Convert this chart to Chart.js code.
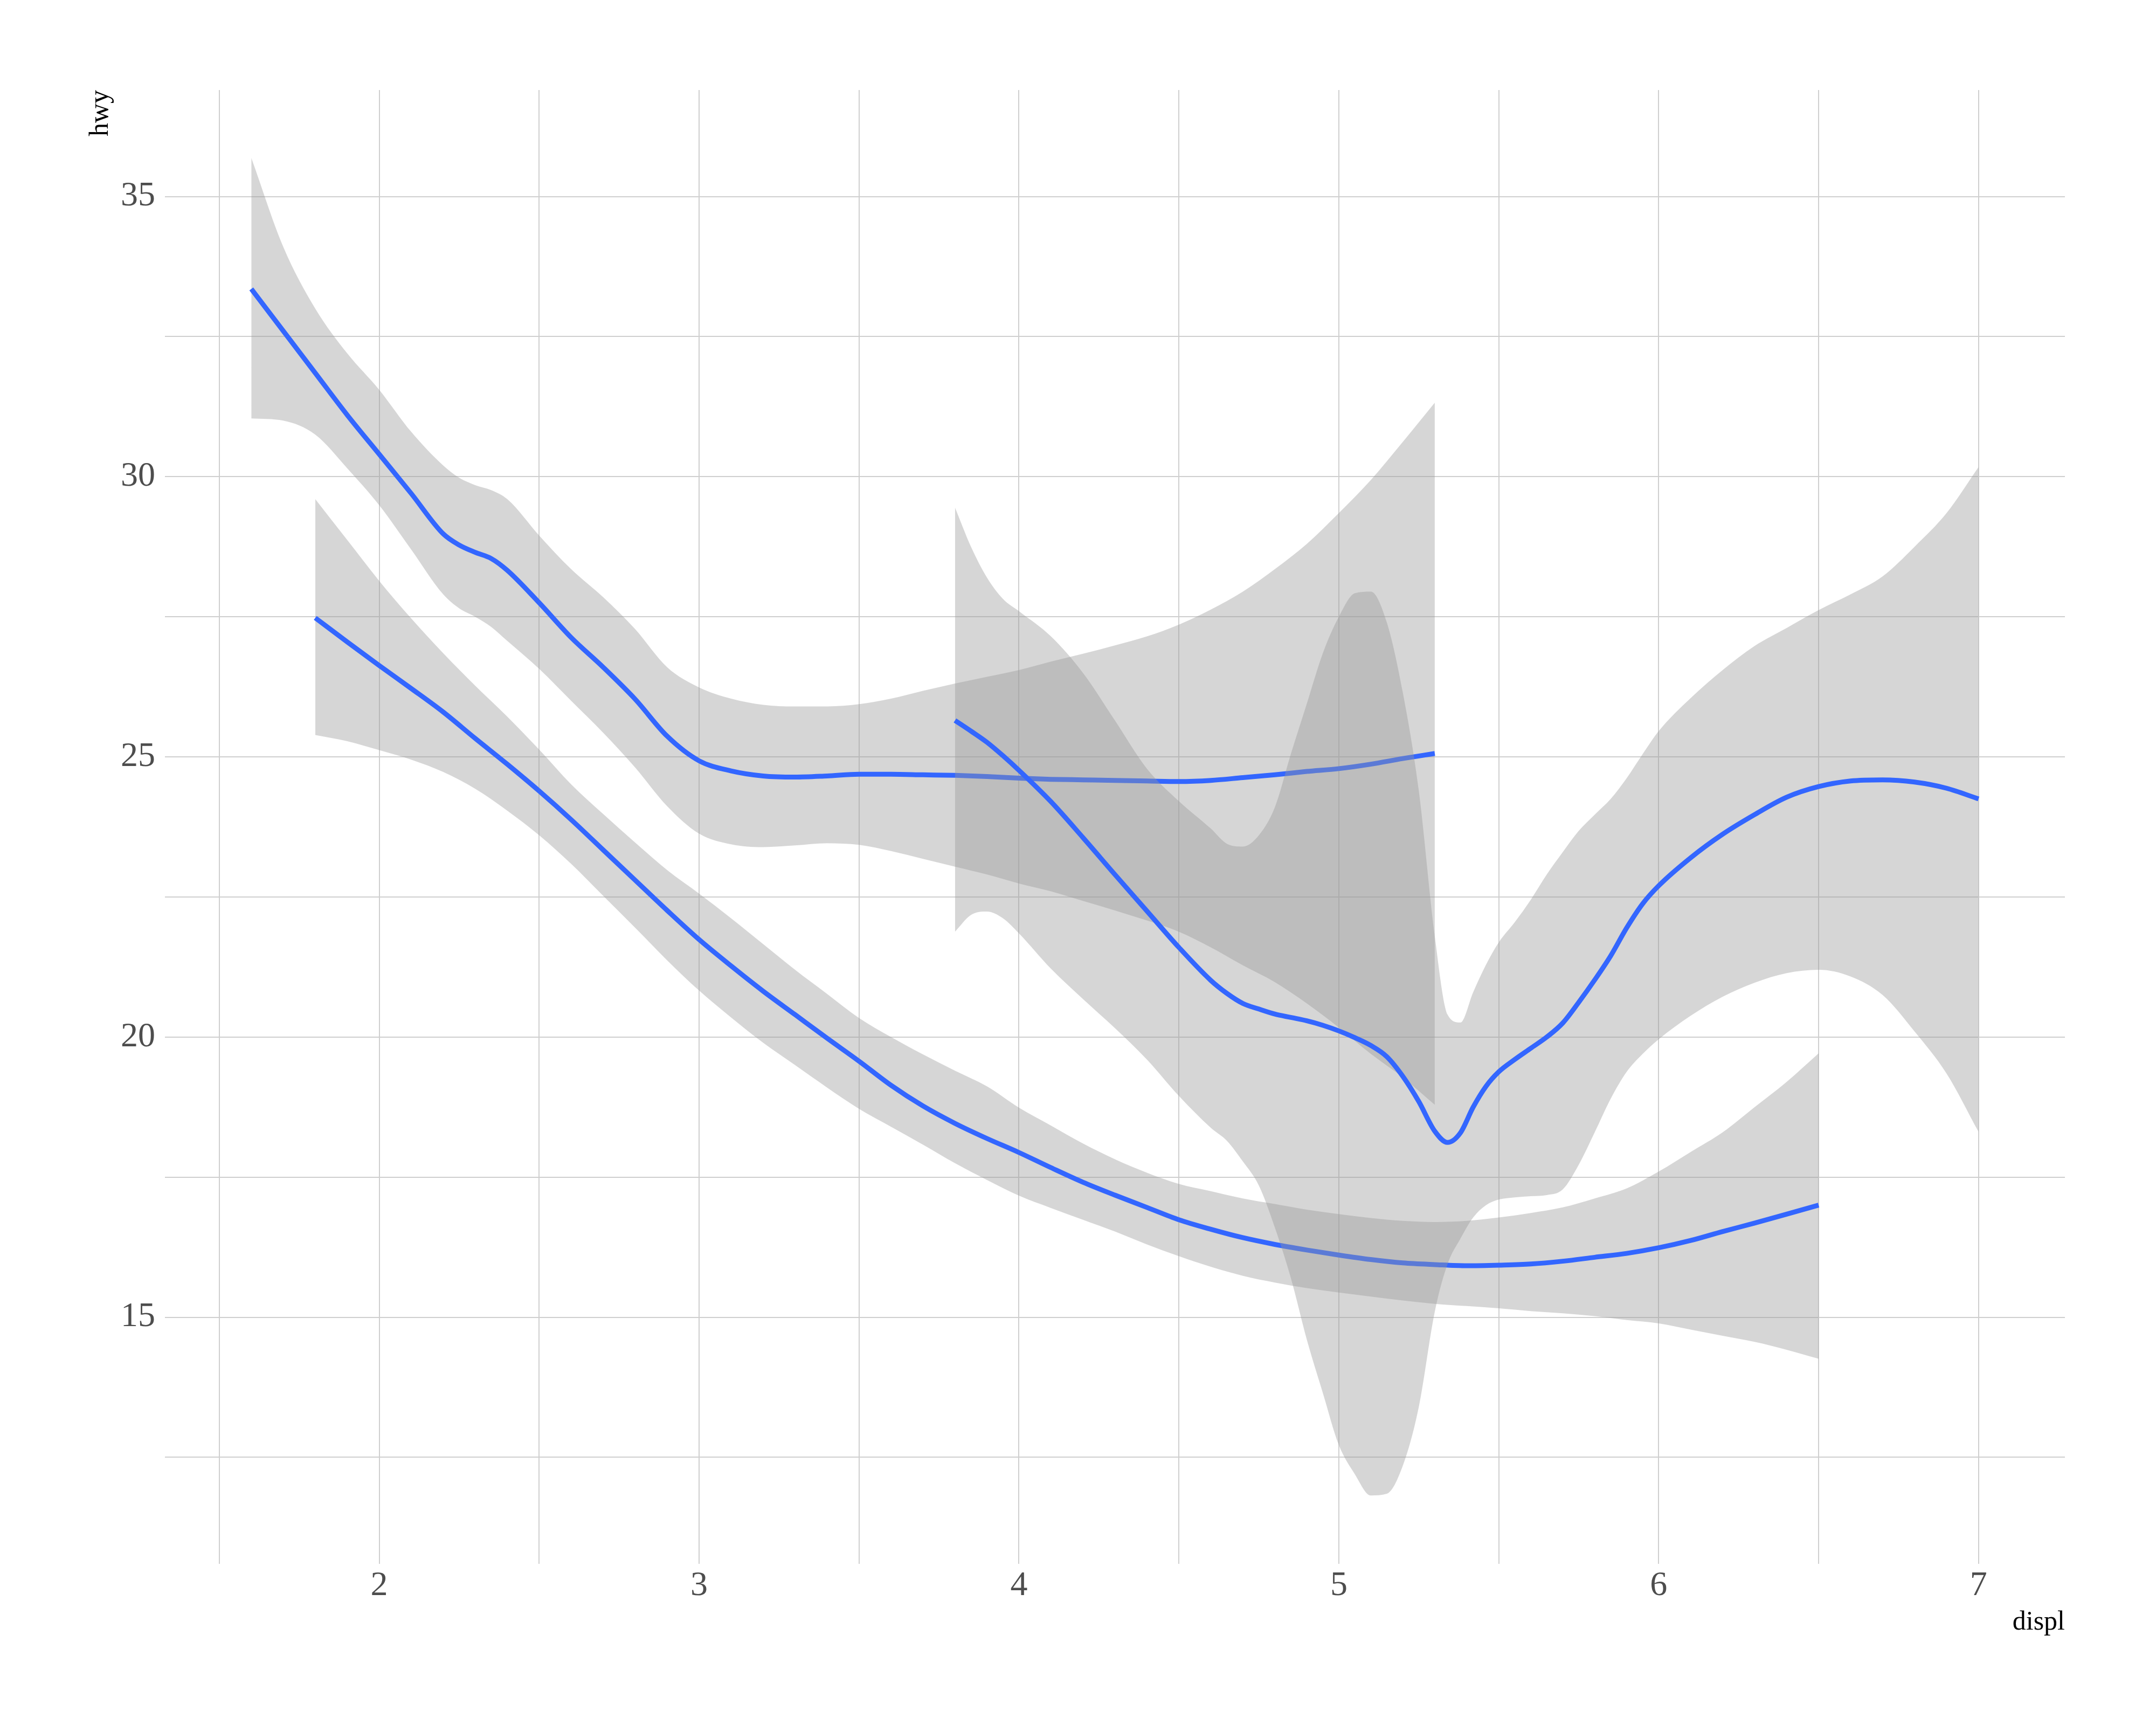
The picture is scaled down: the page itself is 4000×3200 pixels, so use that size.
<!DOCTYPE html>
<html lang="en">
<head>
    <meta charset="UTF-8">
    <title>hwy vs displ - loess smooths by drv</title>
    <script src="https://cdn.jsdelivr.net/npm/chart.js"></script>
    <style>
        body, html {
            margin: 0;
            padding: 0;
            background: #ffffff;
        }
        #chart {
            display: block;
        }
    </style>
</head>
<body>
    <canvas id="chart" width="4000" height="3200"></canvas>

    <script>
        // drv = 4
        var fourDispl = [1.8, 1.9, 2.0, 2.1, 2.2, 2.3, 2.4, 2.5, 2.6, 2.7, 2.8, 2.9, 3.0, 3.1, 3.2, 3.3,
            3.4, 3.5, 3.6, 3.7, 3.8, 3.9, 4.0, 4.1, 4.2, 4.3, 4.4, 4.5, 4.6, 4.7, 4.8, 4.9,
            5.0, 5.1, 5.2, 5.3, 5.4, 5.5, 5.6, 5.7, 5.8, 5.9, 6.0, 6.1, 6.2, 6.3, 6.4, 6.5];
        var fourFit = [27.48, 27.05, 26.63, 26.22, 25.80, 25.33, 24.87, 24.39, 23.88, 23.34, 22.80, 22.26, 21.74, 21.27, 20.82, 20.40,
            19.98, 19.57, 19.14, 18.77, 18.46, 18.19, 17.94, 17.67, 17.41, 17.18, 16.96, 16.74, 16.57, 16.42, 16.30, 16.20,
            16.11, 16.03, 15.97, 15.94, 15.92, 15.93, 15.95, 16.00, 16.07, 16.14, 16.24, 16.37, 16.53, 16.68, 16.84, 17.00];
        var fourLow = [25.39, 25.28, 25.12, 24.95, 24.73, 24.43, 24.04, 23.60, 23.09, 22.52, 21.95, 21.37, 20.83, 20.35, 19.90, 19.50,
            19.10, 18.72, 18.40, 18.08, 17.75, 17.45, 17.17, 16.95, 16.74, 16.53, 16.30, 16.09, 15.90, 15.74, 15.62, 15.52,
            15.44, 15.37, 15.30, 15.24, 15.20, 15.16, 15.11, 15.07, 15.02, 14.95, 14.89, 14.78, 14.67, 14.56, 14.42, 14.26];
        var fourHigh = [29.60, 28.87, 28.14, 27.47, 26.85, 26.27, 25.72, 25.13, 24.51, 23.98, 23.47, 22.98, 22.56, 22.12, 21.66, 21.20,
            20.77, 20.34, 20.00, 19.69, 19.40, 19.12, 18.74, 18.42, 18.10, 17.82, 17.58, 17.38, 17.25, 17.12, 17.02, 16.92,
            16.84, 16.77, 16.72, 16.70, 16.72, 16.78, 16.86, 16.96, 17.12, 17.30, 17.60, 17.95, 18.30, 18.75, 19.20, 19.71];

        // drv = f
        var fDispl = [1.6, 1.7, 1.8, 1.9, 2.0, 2.1, 2.2, 2.25, 2.3, 2.35, 2.4, 2.5, 2.6, 2.7, 2.8, 2.9,
            3.0, 3.1, 3.2, 3.3, 3.4, 3.5, 3.6, 3.7, 3.8, 3.9, 4.0, 4.1, 4.2, 4.3, 4.4, 4.5,
            4.6, 4.7, 4.8, 4.9, 5.0, 5.1, 5.2, 5.3];
        var fFit = [33.35, 32.60, 31.85, 31.10, 30.40, 29.70, 28.98, 28.78, 28.65, 28.54, 28.33, 27.75, 27.13, 26.60, 26.03, 25.37,
            24.93, 24.75, 24.66, 24.64, 24.66, 24.69, 24.69, 24.68, 24.67, 24.65, 24.62, 24.60, 24.59, 24.58, 24.57, 24.56,
            24.58, 24.63, 24.68, 24.74, 24.79, 24.87, 24.97, 25.06];
        var fLow = [31.04, 31.00, 30.75, 30.15, 29.49, 28.70, 27.90, 27.65, 27.50, 27.32, 27.07, 26.57, 26.00, 25.43, 24.81, 24.12,
            23.63, 23.44, 23.39, 23.42, 23.46, 23.43, 23.32, 23.18, 23.04, 22.90, 22.74, 22.60, 22.43, 22.26, 22.08, 21.88,
            21.60, 21.28, 20.98, 20.60, 20.17, 19.70, 19.28, 18.79];
        var fHigh = [35.69, 34.10, 33.00, 32.20, 31.55, 30.80, 30.20, 29.98, 29.85, 29.76, 29.60, 28.95, 28.35, 27.85, 27.28, 26.60,
            26.24, 26.04, 25.93, 25.90, 25.90, 25.94, 26.04, 26.18, 26.31, 26.43, 26.55, 26.70, 26.84, 26.99, 27.15, 27.36,
            27.63, 27.95, 28.35, 28.80, 29.35, 29.94, 30.62, 31.32];

        // drv = r
        var rDispl = [3.8, 3.85, 3.9, 3.95, 4.0, 4.1, 4.2, 4.3, 4.4, 4.5, 4.6, 4.65, 4.7, 4.75, 4.8, 4.85,
            4.9, 4.95, 5.0, 5.05, 5.1, 5.15, 5.2, 5.25, 5.3, 5.34, 5.38, 5.42, 5.46, 5.5, 5.55, 5.6,
            5.65, 5.7, 5.75, 5.8, 5.85, 5.9, 5.95, 6.0, 6.1, 6.2, 6.3, 6.4, 6.5, 6.6, 6.7, 6.8,
            6.9, 7.0];
        var rFit = [25.65, 25.46, 25.26, 25.02, 24.76, 24.20, 23.56, 22.90, 22.25, 21.60, 21.01, 20.78, 20.60, 20.50, 20.41, 20.35,
            20.29, 20.21, 20.11, 19.99, 19.85, 19.65, 19.30, 18.85, 18.32, 18.12, 18.29, 18.75, 19.12, 19.38, 19.60, 19.80,
            20.00, 20.25, 20.62, 21.02, 21.45, 21.95, 22.38, 22.70, 23.20, 23.62, 23.97, 24.28, 24.47, 24.57, 24.59, 24.55,
            24.44, 24.25];
        var rLow = [21.88, 22.18, 22.24, 22.12, 21.85, 21.22, 20.68, 20.16, 19.60, 18.95, 18.38, 18.15, 17.78, 17.35, 16.60, 15.70,
            14.60, 13.65, 12.72, 12.20, 11.82, 11.85, 12.35, 13.40, 15.10, 15.95, 16.40, 16.78, 17.00, 17.10, 17.14, 17.16,
            17.18, 17.28, 17.72, 18.30, 18.90, 19.38, 19.70, 19.96, 20.38, 20.72, 20.97, 21.14, 21.20, 21.08, 20.75, 20.10,
            19.35, 18.31];
        var rHigh = [29.45, 28.75, 28.20, 27.82, 27.60, 27.15, 26.50, 25.65, 24.79, 24.21, 23.72, 23.45, 23.40, 23.60, 24.10, 25.05,
            25.95, 26.85, 27.50, 27.92, 27.95, 27.40, 26.15, 24.40, 21.80, 20.40, 20.26, 20.80, 21.29, 21.69, 22.05, 22.45,
            22.90, 23.30, 23.68, 23.97, 24.25, 24.62, 25.05, 25.46, 26.05, 26.55, 26.98, 27.30, 27.62, 27.90, 28.22, 28.75,
            29.35, 30.17];

        // axis breaks and labels
        var xBreaks = [2, 3, 4, 5, 6, 7];
        var xTickLabels = ['2', '3', '4', '5', '6', '7'];
        var xMinorBreaks = [1.5, 2.5, 3.5, 4.5, 5.5, 6.5];
        var yBreaks = [15, 20, 25, 30, 35];
        var yTickLabels = ['15', '20', '25', '30', '35'];
        var yMinorBreaks = [12.5, 17.5, 22.5, 27.5, 32.5];

        var ribbonColor = 'rgba(153, 153, 153, 0.4)';
        var lineColor = '#3366FF';
        var gridColor = '#CFCFCF';

        function toPoints(xs, ys) {
            return xs.map(function (x, i) { return { x: x, y: ys[i] }; });
        }

        function edge(xs, ys, order) {
            return {
                data: toPoints(xs, ys),
                borderWidth: 0,
                borderColor: 'rgba(0,0,0,0)',
                pointRadius: 0,
                fill: false,
                cubicInterpolationMode: 'monotone',
                order: order
            };
        }

        function band(xs, ys, order) {
            var ds = edge(xs, ys, order);
            ds.fill = { target: '-1', above: ribbonColor, below: ribbonColor };
            ds.backgroundColor = ribbonColor;
            return ds;
        }

        function smooth(xs, ys, order) {
            return {
                data: toPoints(xs, ys),
                borderWidth: 9,
                borderColor: lineColor,
                borderCapStyle: 'butt',
                borderJoinStyle: 'round',
                pointRadius: 0,
                fill: false,
                cubicInterpolationMode: 'monotone',
                order: order
            };
        }

        function allTicks(major, minor) {
            return major.concat(minor).sort(function (a, b) { return a - b; });
        }

        var serif = "'Liberation Serif', 'Times New Roman', serif";

        window.onload = function () {
            var ctx = document.getElementById('chart').getContext('2d');
            var chart = new Chart(ctx, {
                type: 'line',
                data: {
                    datasets: [
                        edge(fourDispl, fourLow, 10),
                        band(fourDispl, fourHigh, 9),
                        smooth(fourDispl, fourFit, 8),
                        edge(fDispl, fLow, 7),
                        band(fDispl, fHigh, 6),
                        smooth(fDispl, fFit, 5),
                        edge(rDispl, rLow, 4),
                        band(rDispl, rHigh, 3),
                        smooth(rDispl, rFit, 2)
                    ]
                },
                options: {
                    responsive: false,
                    devicePixelRatio: 1,
                    animation: false,
                    layout: {
                        padding: { top: 167, right: 169, bottom: 0, left: 0 }
                    },
                    plugins: {
                        legend: { display: false },
                        tooltip: { enabled: false },
                        filler: { propagate: false }
                    },
                    scales: {
                        x: {
                            type: 'linear',
                            min: 1.33,
                            max: 7.27,
                            afterBuildTicks: function (scale) {
                                scale.ticks = allTicks(xBreaks, xMinorBreaks).map(function (v) { return { value: v }; });
                            },
                            afterFit: function (scale) {
                                scale.height = 299;
                            },
                            grid: { color: gridColor, lineWidth: 2, drawTicks: false },
                            border: { display: false },
                            ticks: {
                                autoSkip: false,
                                maxRotation: 0,
                                padding: 3,
                                color: '#4D4D4D',
                                font: { family: serif, size: 64 },
                                callback: function (value) {
                                    var i = xBreaks.indexOf(value);
                                    return i >= 0 ? xTickLabels[i] : '';
                                }
                            },
                            title: {
                                display: true,
                                text: 'displ',
                                align: 'end',
                                color: '#000000',
                                font: { family: serif, size: 50, lineHeight: 1.2 },
                                padding: { top: 0, bottom: 160 }
                            }
                        },
                        y: {
                            type: 'linear',
                            min: 10.6,
                            max: 36.9,
                            afterBuildTicks: function (scale) {
                                scale.ticks = allTicks(yBreaks, yMinorBreaks).map(function (v) { return { value: v }; });
                            },
                            afterFit: function (scale) {
                                scale.width = 306;
                            },
                            grid: { color: gridColor, lineWidth: 2, drawTicks: false },
                            border: { display: false },
                            ticks: {
                                autoSkip: false,
                                padding: 18,
                                color: '#4D4D4D',
                                font: { family: serif, size: 64 },
                                callback: function (value) {
                                    var i = yBreaks.indexOf(value);
                                    return i >= 0 ? yTickLabels[i] : '';
                                }
                            },
                            title: {
                                display: true,
                                text: 'hwy',
                                align: 'end',
                                color: '#000000',
                                font: { family: serif, size: 50, lineHeight: 1.2 },
                                padding: { top: 157, bottom: 0 }
                            }
                        }
                    }
                }
            });
        };
    </script>
</body>
</html>
